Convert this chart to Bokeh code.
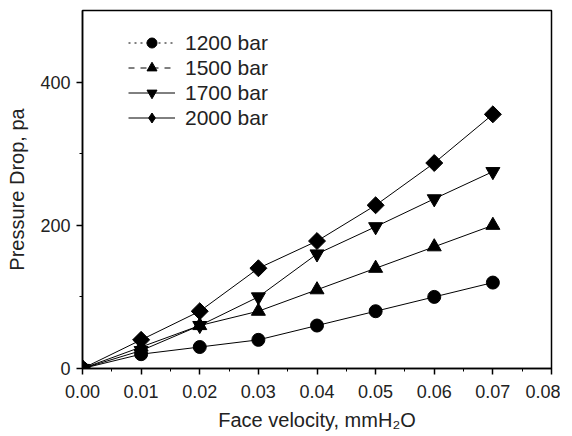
from bokeh.plotting import figure
from bokeh.models import Legend, LegendItem, FixedTicker, Range1d, CustomJSTickFormatter
from bokeh.embed import file_html
from bokeh.resources import INLINE
import math

velocity = [0.00, 0.01, 0.02, 0.03, 0.04, 0.05, 0.06, 0.07]
p1200 = [0, 20, 30, 40, 60, 80, 100, 120]
p1500 = [0, 30, 60, 80, 110, 140, 170, 200]
p1700 = [0, 25, 60, 100, 160, 198, 237, 275]
p2000 = [0, 40, 80, 140, 178, 228, 287, 355]
series_names = ["1200 bar", "1500 bar", "1700 bar", "2000 bar"]
x_ticks = [0.0, 0.01, 0.02, 0.03, 0.04, 0.05, 0.06, 0.07, 0.08]
y_ticks = [0, 200, 400]

p = figure(width=560, height=436, output_backend="svg", toolbar_location=None,
           x_range=Range1d(0, 0.08), y_range=Range1d(0, 500),
           min_border_left=82, min_border_right=9, min_border_top=10, min_border_bottom=68)
p.grid.visible = False
p.outline_line_color = "black"
p.outline_line_width = 1.5
p.background_fill_color = "white"

font = "Liberation Sans"
for ax in (p.xaxis[0], p.yaxis[0]):
    ax.axis_line_width = 1.5
    ax.major_tick_line_width = 1.5
    ax.major_tick_out = 6
    ax.major_tick_in = 0
    ax.minor_tick_out = 3
    ax.minor_tick_in = 0
    ax.major_label_text_font = font
    ax.major_label_text_font_size = "18px"
    ax.major_label_text_color = "#222222"
    ax.axis_label_text_font = font
    ax.axis_label_text_font_size = "20px"
    ax.axis_label_text_font_style = "normal"
    ax.axis_label_text_color = "#222222"

p.xaxis.ticker = FixedTicker(ticks=x_ticks, minor_ticks=[0.005 + 0.01 * i for i in range(8)])
p.xaxis.formatter = CustomJSTickFormatter(code="return tick.toFixed(2);")
p.xaxis.major_label_standoff = 10
p.xaxis.axis_label_standoff = 8
p.yaxis.ticker = FixedTicker(ticks=y_ticks, minor_ticks=[100, 300])
p.yaxis.major_label_standoff = 6
p.xaxis.axis_label = "Face velocity, mmH₂O"
p.yaxis.axis_label = "Pressure Drop, pa"
p.yaxis.axis_label_standoff = 9

data = [p1200, p1500, p1700, p2000]
markers = ["circle", "triangle", "inverted_triangle", "square"]
leg_markers = ["circle", "triangle", "inverted_triangle", "diamond"]
sizes = [13, 14, 14, 12]
leg_sizes = [13, 14, 14, 18]
angles = [0, 0, 0, math.pi / 4]
dashes = ["dotted", "dashed", "solid", "solid"]
items = []
for name, ys, mk, lmk, sz, lsz, ang, dash in zip(series_names, data, markers, leg_markers,
                                                 sizes, leg_sizes, angles, dashes):
    p.line(velocity, ys, line_color="black", line_width=1)
    p.scatter(velocity, ys, marker=mk, size=sz, angle=ang, fill_color="black", line_color="black")
    leg_ln = p.line([velocity[0]], [ys[0]], line_color="black", line_width=1, line_dash=dash)
    leg_sc = p.scatter([velocity[0]], [ys[0]], marker=lmk, size=lsz,
                       fill_color="black", line_color="black")
    items.append(LegendItem(label=name, renderers=[leg_ln, leg_sc]))

legend = Legend(items=items, border_line_color=None,
                background_fill_alpha=0, label_text_font=font, label_text_font_size="21px",
                label_text_color="#222222", glyph_width=47, glyph_height=25, spacing=0,
                padding=0, margin=0, label_standoff=10)
legend.location = (46, 238)
p.add_layout(legend, "center")

open("out.html", "w").write(file_html(p, INLINE))
